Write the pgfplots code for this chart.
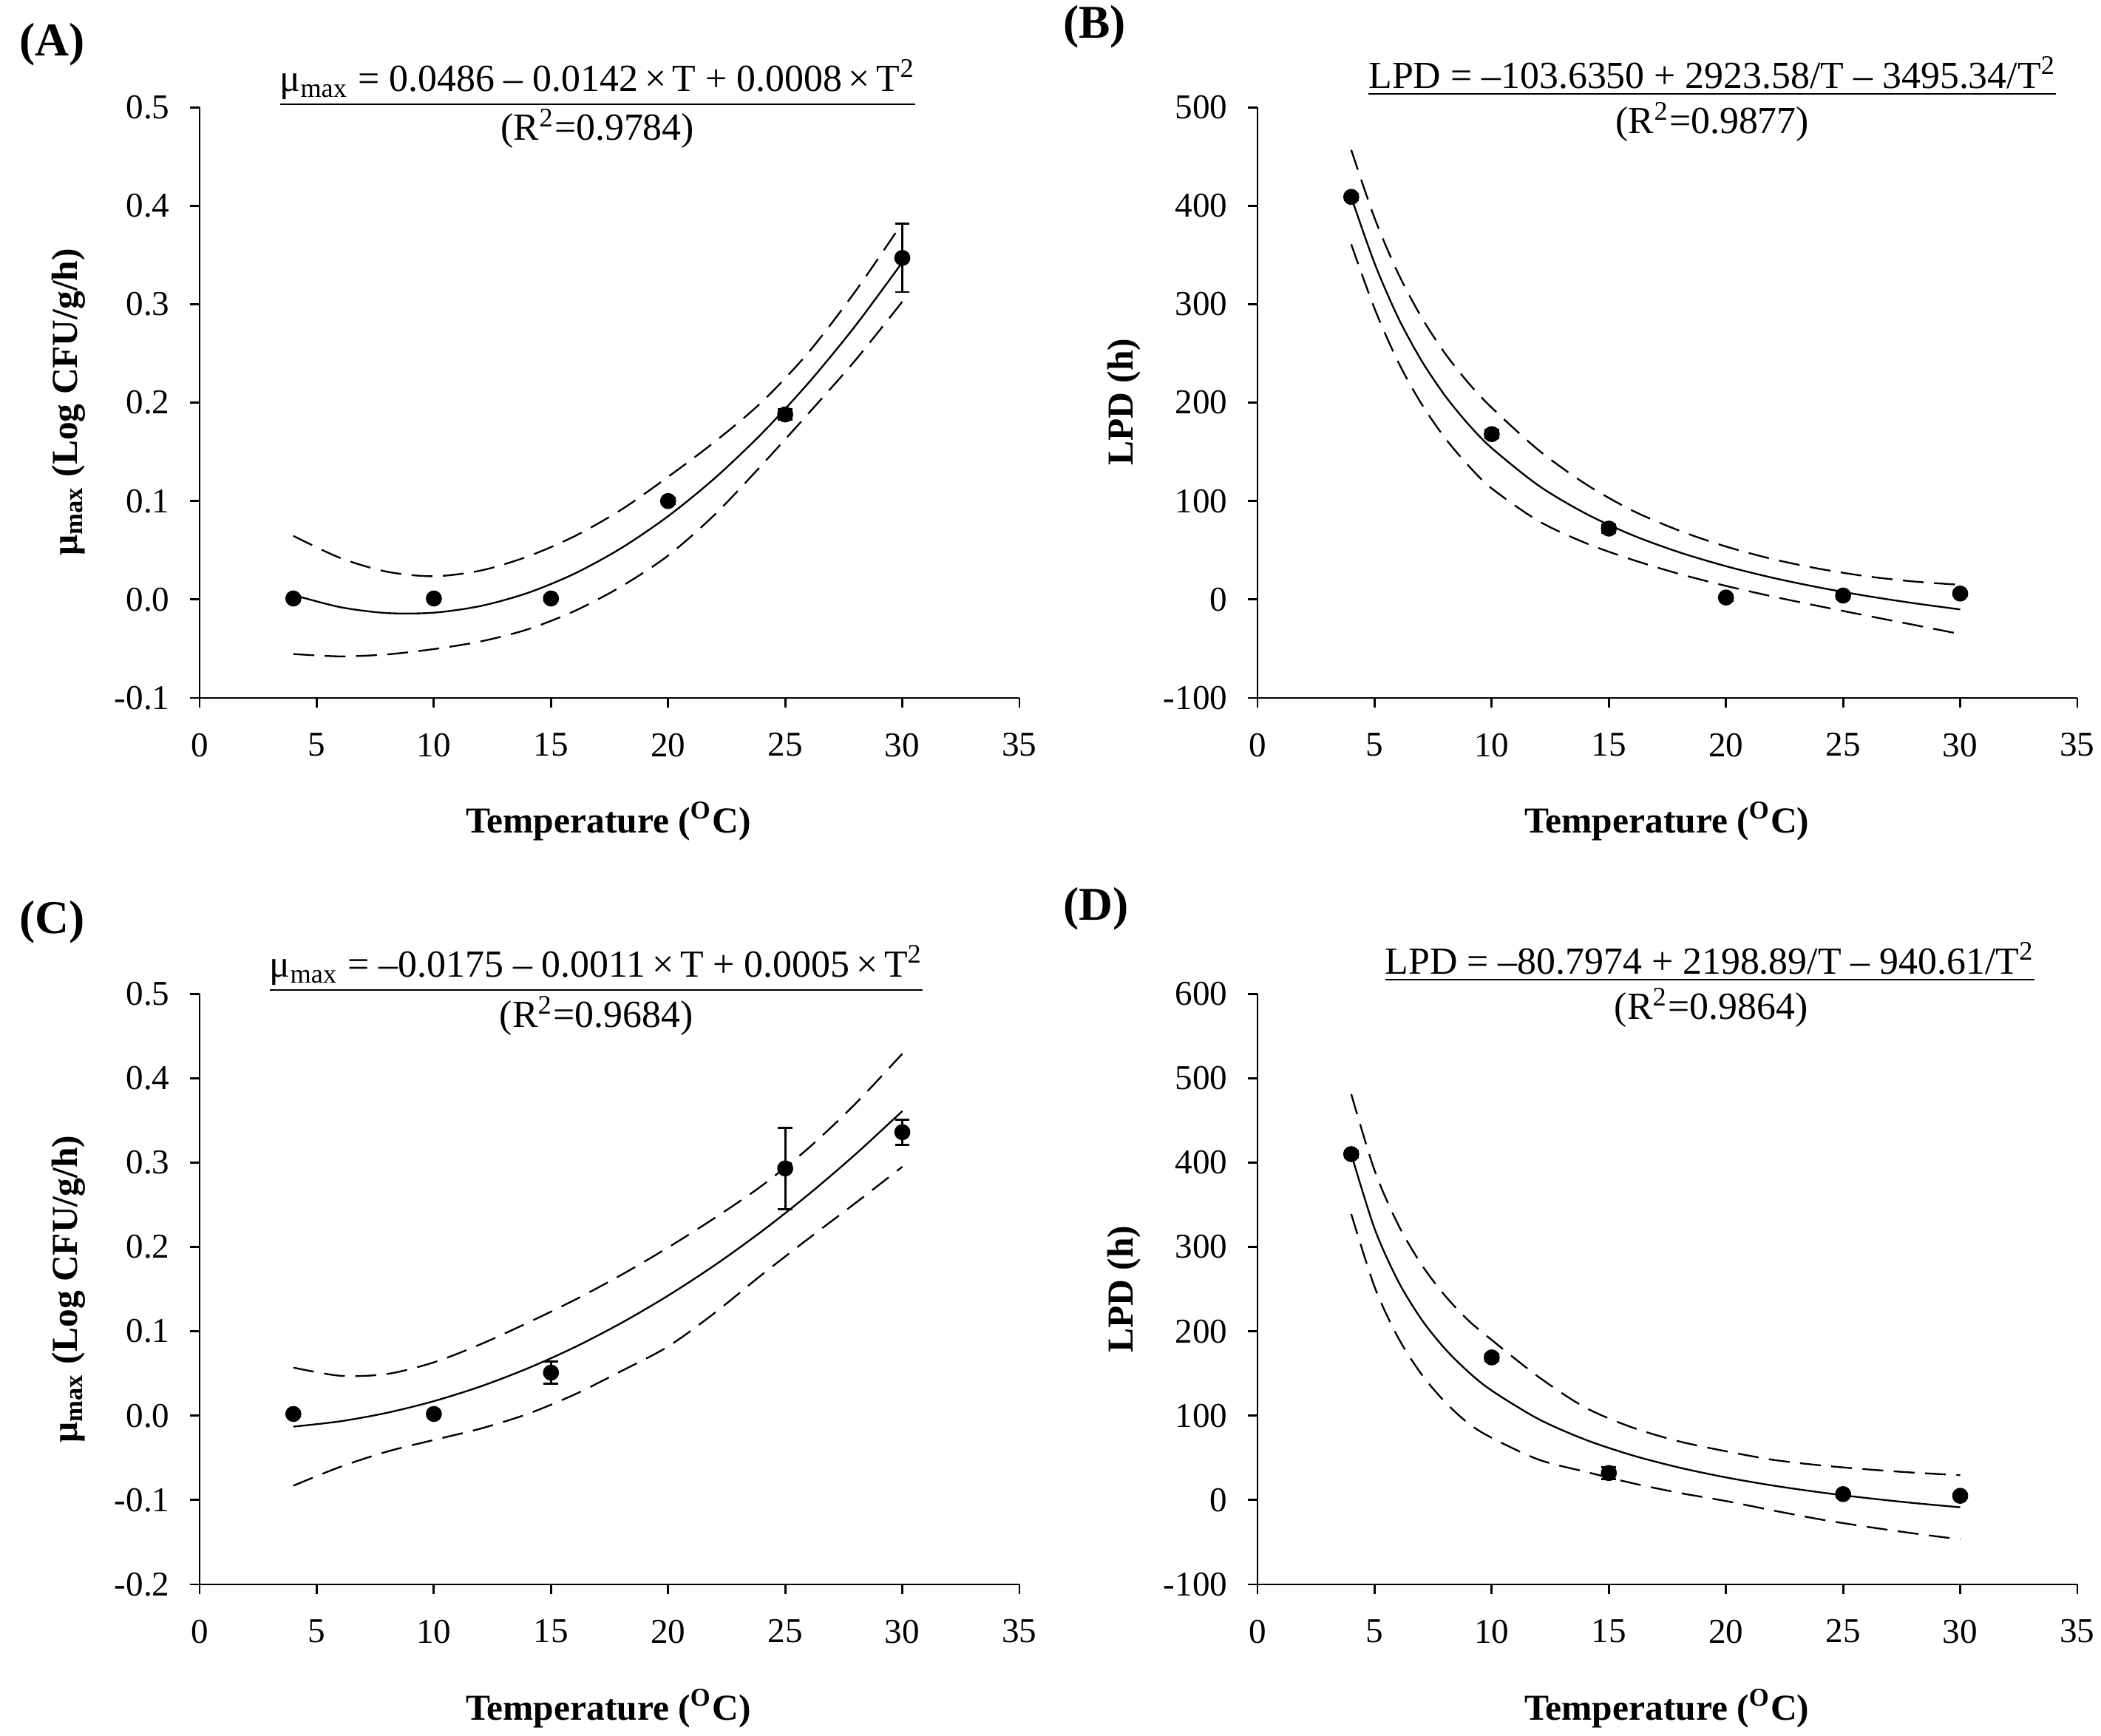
\documentclass[border=0pt]{standalone}
\usepackage{fontspec}
\setmainfont{Liberation Serif}
\usepackage{pgfplots}
\pgfplotsset{compat=1.18}

% one shrunk reference pixel = 0.3846pt
\pgfplotsset{
  panel/.style={
    scale only axis, width=235.3pt, height=169.5pt,
    axis lines=left, axis line style={-, line width=0.6pt},
    tick align=outside, major tick length=2.8pt,
    tick style={black, line width=0.6pt},
    xmin=0, xmax=35, xtick={0,5,...,35},
    ticklabel style={font=\fontsize{10}{12}\selectfont},
    /pgf/number format/assume math mode=true,
    xticklabel style={yshift=-3.8pt},
    yticklabel style={xshift=-2.3pt},
    clip=false,
  },
  onedec/.style={yticklabel style={/pgf/number format/.cd, fixed, fixed zerofill, precision=1}},
  fit/.style={black, line width=0.5pt, smooth, mark=none},
  band/.style={black, line width=0.5pt, smooth, mark=none, dash pattern=on 6pt off 3pt},
  pts/.style={only marks, mark=*, mark size=2.1pt, black,
    error bars/.cd, y dir=both, y explicit,
    error bar style={line width=0.6pt, black},
    error mark options={rotate=90, mark size=2.1pt, line width=0.6pt, black}},
}

\begin{document}
\begin{tikzpicture}
\path[use as bounding box] (0,0) rectangle (603.05pt,498.06pt);

% (A)
\begin{axis}[panel, onedec, at={(57.31pt,297.76pt)}, ymin=-0.1, ymax=0.5, ytick={-0.1,0,0.1,0.2,0.3,0.4,0.5}]
  \addplot[band] coordinates {(4,0.0646) (6,0.0422) (8,0.0282) (10,0.0236) (12,0.0294) (14,0.0436) (16,0.0642) (18,0.0912) (20,0.1246) (22,0.1604) (24,0.2006) (26,0.2512) (28,0.3132) (30,0.3826)};
  \addplot[band] coordinates {(4,-0.0554) (6,-0.0578) (8,-0.0558) (10,-0.0504) (12,-0.0426) (14,-0.0304) (16,-0.0118) (18,0.0132) (20,0.0446) (22,0.0864) (24,0.1366) (26,0.1892) (28,0.2432) (30,0.3026)};
  \addplot[fit] coordinates {(4,0.0046) (6,-0.0078) (8,-0.0138) (10,-0.0134) (12,-0.0066) (14,0.0066) (16,0.0262) (18,0.0522) (20,0.0846) (22,0.1234) (24,0.1686) (26,0.2202) (28,0.2782) (30,0.3426)};
  \addplot[pts] coordinates {(4,0.001) +- (0,0.002) (10,0.001) +- (0,0.002) (15,0.001) +- (0,0.002) (20,0.100) +- (0,0.003) (25,0.188) +- (0,0.005) (30,0.347) +- (0,0.0347)};
\end{axis}

% (B)
\begin{axis}[panel, at={(360.95pt,297.76pt)}, ymin=-100, ymax=500, ytick={-100,0,...,500}]
  \addplot[band] coordinates {(4,456.8) (5,387.3) (6,331.5) (7,286.7) (8,250.2) (9,220.1) (10,194.8) (12,151.7) (14,117.4) (16,90.4) (18,70.0) (20,53.8) (22,41.0) (24,31.1) (26,23.6) (28,18.3) (30,14.9)};
  \addplot[band] coordinates {(4,360.8) (5,295.3) (6,241.5) (7,198.7) (8,164.2) (9,136.1) (10,112.8) (12,79.7) (14,57.4) (16,40.4) (18,26.0) (20,13.8) (22,3.0) (24,-6.9) (26,-16.4) (28,-25.7) (30,-35.1)};
  \addplot[fit] coordinates {(4,408.8) (5,341.3) (6,286.5) (7,242.7) (8,207.2) (9,178.1) (10,153.8) (12,115.7) (14,87.4) (16,65.4) (18,48.0) (20,33.8) (22,22.0) (24,12.1) (26,3.6) (28,-3.7) (30,-10.1)};
  \addplot[pts] coordinates {(4,409) +- (0,3) (10,168) +- (0,4) (15,72) +- (0,4) (20,2) +- (0,3) (25,4) +- (0,3) (30,6) +- (0,3)};
\end{axis}

% (C)
\begin{axis}[panel, onedec, at={(57.31pt,43.34pt)}, ymin=-0.2, ymax=0.5, ytick={-0.2,-0.1,0,0.1,0.2,0.3,0.4,0.5}]
  \addplot[band] coordinates {(4,0.057) (6,0.0473) (8,0.0494) (10,0.0632) (12,0.0847) (14,0.110) (16,0.137) (18,0.1668) (20,0.1993) (22,0.2345) (24,0.2725) (26,0.3173) (28,0.3698) (30,0.429)};
  \addplot[band] coordinates {(4,-0.083) (6,-0.0607) (8,-0.0426) (10,-0.0288) (12,-0.0153) (14,0.002) (16,0.025) (18,0.0528) (20,0.082) (22,0.122) (24,0.167) (26,0.210) (28,0.252) (30,0.295)};
  \addplot[fit] coordinates {(4,-0.0130) (6,-0.0067) (8,0.0034) (10,0.0172) (12,0.0347) (14,0.0560) (16,0.0810) (18,0.1098) (20,0.1423) (22,0.1785) (24,0.2185) (26,0.2623) (28,0.3098) (30,0.3610)};
  \addplot[pts] coordinates {(4,0.002) +- (0,0.003) (10,0.002) +- (0,0.003) (15,0.051) +- (0,0.013) (25,0.293) +- (0,0.048) (30,0.336) +- (0,0.015)};
\end{axis}

% (D)
\begin{axis}[panel, at={(360.95pt,43.34pt)}, ymin=-100, ymax=600, ytick={-100,0,...,600}]
  \addplot[band] coordinates {(4,481.1) (5,390.4) (6,326.6) (7,279.1) (8,242.4) (9,212.9) (10,189.7) (12,145.9) (14,109.5) (16,86.0) (18,69.5) (20,57.8) (22,47.7) (24,41.2) (26,36.4) (28,32.5) (30,29.5)};
  \addplot[band] coordinates {(4,339.1) (5,252.4) (6,192.6) (7,149.1) (8,116.4) (9,90.9) (10,73.7) (12,47.9) (14,33.5) (16,20.0) (18,8.5) (20,-1.2) (22,-12.3) (24,-22.8) (26,-31.6) (28,-39.5) (30,-46.6)};
  \addplot[fit] coordinates {(4,410.1) (5,321.4) (6,259.6) (7,214.1) (8,179.4) (9,151.9) (10,129.7) (12,95.9) (14,71.5) (16,53.0) (18,38.5) (20,26.8) (22,17.2) (24,9.2) (26,2.4) (28,-3.5) (30,-8.6)};
  \addplot[pts] coordinates {(4,410) +- (0,4) (10,169) +- (0,4) (15,32) +- (0,7) (25,7) +- (0,3) (30,5) +- (0,3)};
\end{axis}

\begin{scope}[x=0.3846pt,y=0.3846pt]
  \tikzset{
    plab/.style={anchor=west, inner sep=0pt, font=\fontsize{13.5}{16}\bfseries\selectfont},
    eq/.style={inner sep=0pt, font=\fontsize{11}{13}\selectfont},
    alab/.style={inner sep=0pt, font=\fontsize{10.5}{12}\bfseries\selectfont},
  }
  \node[plab] at (14,1262) {(A)};
  \node[plab] at (793,1275) {(B)};
  \node[plab] at (14,607) {(C)};
  \node[plab] at (793,617) {(D)};

  \node[eq] at (446,1233) {\underline{μ\textsubscript{max} = 0.0486 – 0.0142\,×\,T + 0.0008\,×\,T\textsuperscript{2}}};
  \node[eq] at (446,1199) {(R\textsuperscript{2}=0.9784)};
  \node[eq] at (1278,1238) {\underline{LPD = –103.6350 + 2923.58/T – 3495.34/T\textsuperscript{2}}};
  \node[eq] at (1278,1204) {(R\textsuperscript{2}=0.9877)};
  \node[eq] at (445,572) {\underline{μ\textsubscript{max} = –0.0175 – 0.0011\,×\,T + 0.0005\,×\,T\textsuperscript{2}}};
  \node[eq] at (445,537) {(R\textsuperscript{2}=0.9684)};
  \node[eq] at (1276,577) {\underline{LPD = –80.7974 + 2198.89/T – 940.61/T\textsuperscript{2}}};
  \node[eq] at (1277,543) {(R\textsuperscript{2}=0.9864)};

  \node[alab, rotate=90] at (51,995) {μ\textsubscript{max} (Log CFU/g/h)};
  \node[alab, rotate=90] at (839,995) {LPD (h)};
  \node[alab, rotate=90] at (51,333) {μ\textsubscript{max} (Log CFU/g/h)};
  \node[alab, rotate=90] at (839,333) {LPD (h)};

  \node[alab] at (454,682) {Temperature (\textsuperscript{O}C)};
  \node[alab] at (1244,682) {Temperature (\textsuperscript{O}C)};
  \node[alab] at (454,20) {Temperature (\textsuperscript{O}C)};
  \node[alab] at (1244,20) {Temperature (\textsuperscript{O}C)};
\end{scope}
\end{tikzpicture}
\end{document}
